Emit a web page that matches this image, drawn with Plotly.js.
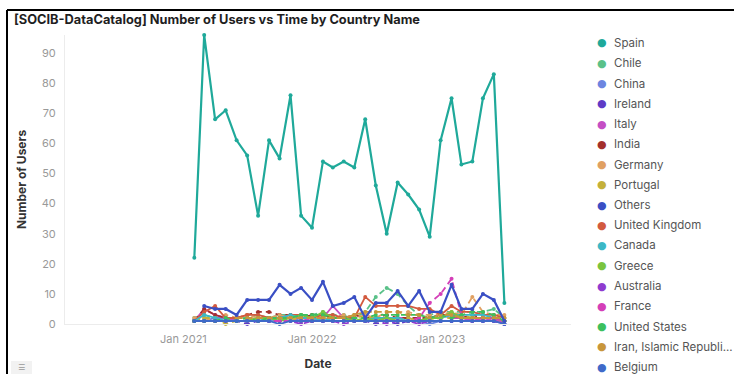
<!DOCTYPE html>
<html>
<head>
<meta charset="utf-8">
<script src="https://cdn.plot.ly/plotly-3.0.1.min.js"></script>
<style>
  html, body { margin: 0; padding: 0; background: #fff; }
  #chart { width: 734px; height: 374px; }
</style>
</head>
<body>
<div id="chart"></div>
<script>
// ---------- DATA ----------
const months = ['2021-02-01','2021-03-01','2021-04-01','2021-05-01','2021-06-01','2021-07-01',
  '2021-08-01','2021-09-01','2021-10-01','2021-11-01','2021-12-01','2022-01-01',
  '2022-02-01','2022-03-01','2022-04-01','2022-05-01','2022-06-01','2022-07-01',
  '2022-08-01','2022-09-01','2022-10-01','2022-11-01','2022-12-01','2023-01-01',
  '2023-02-01','2023-03-01','2023-04-01','2023-05-01','2023-06-01','2023-07-01'];

const spain     = [22,96,68,71,61,56,36,61,55,76,36,32,54,52,54,52,68,46,30,47,43,38,29,61,75,53,54,75,83,7];
const chile     = [2,3,2,1,2,2,3,2,3,3,3,3,4,3,3,2,4,9,12,10,6,3,3,4,4,4,4,4,5,2];
const china     = [null,1,2,2,1,1,1,1,2,2,1,1,2,1,1,1,1,1,1,1,1,1,0,1,1,1,1,1,1,0];
const ireland   = [1,1,1,1,1,0,1,1,1,1,1,1,1,1,1,1,1,0,1,0,1,1,1,1,1,1,1,1,1,0];
const italy     = [1,5,3,2,1,1,2,2,2,2,2,1,2,6,2,1,1,2,1,2,2,1,2,3,2,2,1,2,1,1];
const india     = [1,5,3,2,2,3,4,4,3,3,2,3,3,2,2,3,2,2,3,2,2,2,2,3,3,2,3,2,2,1];
const germany   = [2,2,1,3,2,3,2,2,3,2,2,2,3,2,3,2,3,2,4,4,4,3,3,3,4,3,9,4,3,3];
const portugal  = [1,2,2,0,1,1,1,2,1,2,1,1,2,2,2,3,2,2,2,1,2,1,1,2,2,3,2,2,2,1];
const others    = [null,6,5,5,3,8,8,8,13,10,12,8,14,6,7,9,2,7,7,11,6,11,4,4,13,5,5,10,8,1];
const uk        = [1,4,6,2,2,3,3,2,2,3,3,2,3,3,2,2,9,6,6,6,6,5,5,3,6,4,4,3,3,2];
const canada    = [1,3,2,1,1,1,1,2,2,3,2,2,1,2,2,1,1,2,2,2,1,1,2,2,3,3,3,3,2,1];
const greece    = [null,1,1,1,1,1,2,2,1,2,3,2,4,2,2,1,2,1,2,1,1,1,2,2,4,2,2,2,2,1];
const australia = [1,1,1,1,1,1,1,1,1,1,0,1,1,1,0,1,1,1,0,1,1,0,1,1,1,1,1,1,1,0];
const france    = [null,1,1,1,1,1,1,1,1,1,1,1,1,1,1,1,1,1,1,1,1,2,7,10,15,3,1,2,2,1];
const us        = [1,1,1,2,1,2,1,2,2,2,3,3,3,2,2,2,2,3,3,3,3,3,2,3,2,3,4,4,3,1];
const iran      = [null,null,null,null,2,2,2,2,2,2,2,2,2,2,2,3,4,4,4,4,3,3,2,3,3,2,2,2,2,2];
const belgium   = [1,1,1,1,1,1,1,1,0,1,1,1,1,1,1,1,1,1,1,1,1,1,1,1,1,1,1,1,1,0];

const countryNames = ['Spain','Chile','China','Ireland','Italy','India','Germany','Portugal',
  'Others','United Kingdom','Canada','Greece','Australia','France','United States',
  'Iran, Islamic Republi...','Belgium'];
const countryValues = [spain,chile,china,ireland,italy,india,germany,portugal,
  others,uk,canada,greece,australia,france,us,iran,belgium];

const xTickVals  = ['2021-01-01','2022-01-01','2023-01-01'];
const xTickText  = ['Jan 2021','Jan 2022','Jan 2023'];

// ---------- STYLE ----------
const colors = ['#1fa99a','#5ac189','#6c85e0','#5e3bc6','#c44fc4','#a3302c','#e0a062','#c4b03a',
  '#3a4fc4','#d25a3f','#3cb8c6','#7ac43f','#8f3bcf','#d43fb8','#3cc05e','#c8963b','#3f6ac9'];
const DASH = '6px,4px';
const dashes = ['solid',DASH,'solid',DASH,'solid',DASH,DASH,DASH,
  'solid','solid','solid','solid',DASH,DASH,DASH,DASH,'solid'];

const W = 734, H = 374;
const M = {l: 65, r: 163, t: 35, b: 50};
const PW = W - M.l - M.r, PH = H - M.t - M.b;
const px = x => (x - M.l) / PW;
const py = y => (H - M.b - y) / PH;

// draw order: minor series first, then Others, then Spain
const order = [1,2,3,4,5,6,7,9,10,11,12,13,14,15,16,8,0];
const traces = order.map(i => ({
  type: 'scatter',
  mode: 'lines+markers',
  name: countryNames[i],
  x: months,
  y: countryValues[i],
  showlegend: false,
  cliponaxis: false,
  line: {color: colors[i], width: (i === 0 || i === 8) ? 2.2 : 1.8, dash: dashes[i]},
  marker: {color: colors[i], size: 4}
}));

// legend as annotations
const annotations = [];
countryNames.forEach((n, i) => {
  const y = 43 + i * 20.25;
  annotations.push({
    xref: 'paper', yref: 'paper', x: px(601.5), y: py(y), xanchor: 'center', yanchor: 'middle',
    text: '●', showarrow: false, font: {family: 'DejaVu Sans', size: 11, color: colors[i]}
  });
  annotations.push({
    xref: 'paper', yref: 'paper', x: px(612), y: py(y), xanchor: 'left', yanchor: 'middle',
    text: n, showarrow: false, font: {family: 'Inter', size: 11.5, color: '#555555'}
  });
});
annotations.push({
  xref: 'paper', yref: 'paper', x: px(21), y: py(367), xanchor: 'center', yanchor: 'middle',
  text: '☰', showarrow: false, font: {family: 'DejaVu Sans', size: 8, color: '#999'}
});

const layout = {
  width: W, height: H,
  margin: M,
  paper_bgcolor: '#ffffff',
  plot_bgcolor: '#ffffff',
  font: {family: 'Inter, "Noto Sans", sans-serif', color: '#999999', size: 11},
  showlegend: false,
  title: {
    text: '[SOCIB-DataCatalog] Number of Users vs Time by Country Name',
    xref: 'container', yref: 'container',
    x: 14 / W, y: 1 - 20 / H, xanchor: 'left', yanchor: 'middle',
    font: {family: 'Inter', size: 12.8, weight: 700, color: '#1f1f1f'}
  },
  xaxis: {
    type: 'date',
    range: ['2020-01-31', '2024-01-06'],
    tickvals: xTickVals, ticktext: xTickText,
    showgrid: false, zeroline: false,
    showline: true, linecolor: '#ececec', linewidth: 1,
    ticks: '', ticklabelstandoff: 5,
    tickfont: {size: 11, color: '#999999'},
    title: {text: 'Date', standoff: 14, font: {size: 12, weight: 700, color: '#333333'}}
  },
  yaxis: {
    range: [0, 96],
    dtick: 10, tick0: 0,
    showgrid: false, zeroline: false,
    showline: true, linecolor: '#ececec', linewidth: 1,
    ticks: '', ticklabelstandoff: 6,
    tickfont: {size: 11, color: '#999999'},
    title: {text: 'Number of Users', standoff: 12, font: {size: 12, weight: 700, color: '#333333'}}
  },
  annotations: annotations,
  shapes: [
    {type: 'line', xref: 'paper', yref: 'paper', x0: px(7), x1: px(740), y0: py(10), y1: py(10),
     line: {color: '#000000', width: 2}},
    {type: 'line', xref: 'paper', yref: 'paper', x0: px(7), x1: px(7), y0: py(10), y1: py(380),
     line: {color: '#000000', width: 2}},
    {type: 'rect', xref: 'paper', yref: 'paper', x0: px(11), x1: px(32), y0: py(361), y1: py(380),
     fillcolor: '#f2f2f2', line: {width: 0}, layer: 'below'}
  ]
};

Plotly.newPlot('chart', traces, layout, {displayModeBar: false, staticPlot: true});
</script>
</body>
</html>
